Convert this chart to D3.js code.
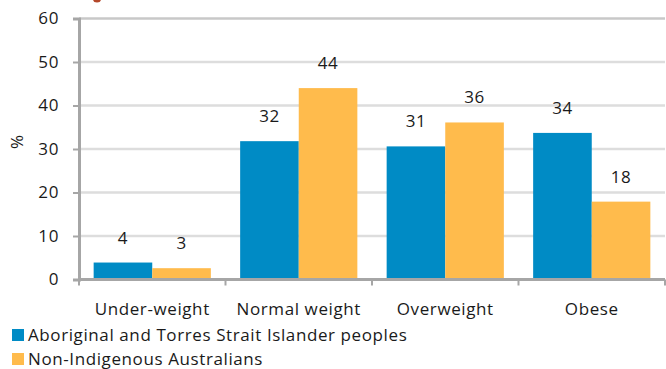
<!DOCTYPE html>
<html><head><meta charset="utf-8">
<script src="https://cdn.jsdelivr.net/npm/d3@7"></script>
<style>body{margin:0;background:#fff}svg{display:block}text{font-family:"Open Sans",Lato,sans-serif;fill:#1a1a1a}</style>
</head><body>
<svg id="c" width="666" height="369"></svg>
<script>
const categories = ["Under-weight","Normal weight","Overweight","Obese"];
const seriesNames = ["Aboriginal and Torres Strait Islander peoples","Non-Indigenous Australians"];
const aboriginal = [3.9, 31.8, 30.6, 33.7];
const nonIndigenous = [2.6, 44.0, 36.1, 17.9];
const labelsAboriginal = ["4","32","31","34"];
const labelsNonIndigenous = ["3","44","36","18"];
const yTicks = [0,10,20,30,40,50,60];
const colors = ["#008BC5","#FFBB4C"];

const FONT = "'Open Sans',Lato,sans-serif";
const FS = 17;
const LS = "0.6px";
const svg = d3.select("#c");
const mLeft = 79, mRight = 665, mTop = 18.5, mBottom = 279.5;
const x = d3.scaleBand().domain(categories).range([mLeft,mRight]).paddingInner(0.2).paddingOuter(0.1);
const y = d3.scaleLinear().domain([0,60]).range([mBottom,mTop]);
const xs = d3.scaleBand().domain([0,1]).range([0,x.bandwidth()]);

// red fragment of cut-off title
svg.append("ellipse").attr("cx",97).attr("cy",-1).attr("rx",4).attr("ry",3.5).attr("fill","#B4472A");

// gridlines
svg.append("g").selectAll("line").data(yTicks.filter(d=>d>0)).join("line")
  .attr("x1",mLeft).attr("x2",mRight).attr("y1",d=>y(d)).attr("y2",d=>y(d))
  .attr("stroke",d=>d===60?"#C8C8C8":"#DDDDDD").attr("stroke-width",2.5);

// y axis
const ya = svg.append("g").attr("transform",`translate(${mLeft},0)`)
  .call(d3.axisLeft(y).tickValues(yTicks).tickSize(6).tickPadding(14));
ya.select(".domain").attr("stroke","#A6A6A6").attr("stroke-width",3);
ya.selectAll(".tick line").attr("stroke","#A6A6A6").attr("stroke-width",2);
ya.selectAll(".tick text").attr("font-size",FS).attr("font-family",FONT).attr("fill","#1a1a1a").attr("letter-spacing",LS);

// bars
const series = [aboriginal, nonIndigenous];
const labels = [labelsAboriginal, labelsNonIndigenous];
series.forEach((vals,si)=>{
  const g = svg.append("g");
  g.selectAll("rect").data(vals).join("rect")
    .attr("x",(d,i)=>x(categories[i])+xs(si))
    .attr("width",xs.bandwidth())
    .attr("y",d=>y(d)).attr("height",d=>mBottom-y(d))
    .attr("fill",colors[si]);
  g.selectAll("text").data(vals).join("text")
    .attr("x",(d,i)=>x(categories[i])+xs(si)+xs.bandwidth()/2)
    .attr("y",d=>y(d)-19)
    .attr("text-anchor","middle").attr("font-size",FS).attr("letter-spacing",LS)
    .text((d,i)=>labels[si][i]);
});

// x axis
const xa = svg.append("g").attr("transform",`translate(0,${mBottom})`)
  .call(d3.axisBottom(x).tickSize(0).tickPadding(23));
xa.select(".domain").attr("stroke","#A6A6A6").attr("stroke-width",3).attr("d",`M${mLeft},0H${mRight}`);
xa.selectAll(".tick text").attr("font-size",FS).attr("font-family",FONT).attr("fill","#1a1a1a").attr("letter-spacing",LS);
// category boundary ticks
const bounds = [mLeft, ...categories.slice(1).map(c=>x(c)-x.step()*x.paddingInner()/2), mRight];
svg.append("g").selectAll("line").data(bounds).join("line")
  .attr("x1",d=>d).attr("x2",d=>d).attr("y1",mBottom).attr("y2",mBottom+6)
  .attr("stroke","#A6A6A6").attr("stroke-width",2);

// y title
svg.append("text").attr("transform","translate(23,142) rotate(-90)")
  .attr("text-anchor","middle").attr("font-size",FS).text("%");

// legend
const lg = svg.append("g").selectAll("g").data(seriesNames).join("g")
  .attr("transform",(d,i)=>`translate(12,${329+i*24})`);
lg.append("rect").attr("width",12).attr("height",12).attr("fill",(d,i)=>colors[i]);
lg.append("text").attr("x",16).attr("y",12).attr("font-size",FS).attr("letter-spacing",LS).text(d=>d);
</script>
</body></html>
